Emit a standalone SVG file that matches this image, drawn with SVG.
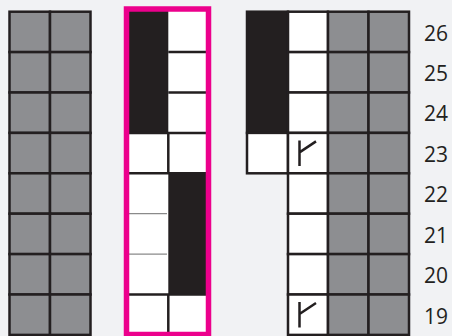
<svg xmlns="http://www.w3.org/2000/svg" width="452" height="336" viewBox="0 0 452 336">
<style>
.g{fill:#8d8e91;stroke:#231f20;stroke-width:2.5}
.w{fill:#ffffff;stroke:#231f20;stroke-width:2.5}
.k{fill:#231f20;stroke:#231f20;stroke-width:2.5}
.ln{stroke:#231f20;stroke-width:2.5;fill:none}
.lt{stroke:#8a8a8a;stroke-width:1.2;fill:none}
.sym{stroke:#231f20;stroke-width:2.5;fill:none;stroke-linecap:butt}
.lab{font-family:"Open Sans","Liberation Sans",sans-serif;font-size:21px;fill:#231f20;text-anchor:middle}
</style>
<defs>
<g id="gcell"><rect class="g" width="40.5" height="40.4"/></g>
<path id="mark" d="M11.5 7.5V33M11.5 19.5L28 8.5"/>
</defs>
<rect width="452" height="336" fill="#f1f2f4"/>

<g id="left-block">
<rect class="g" x="9.5" y="11.7" width="40.5" height="40.4"/><rect class="g" x="50" y="11.7" width="40.5" height="40.4"/>
<rect class="g" x="9.5" y="52.1" width="40.5" height="40.4"/><rect class="g" x="50" y="52.1" width="40.5" height="40.4"/>
<rect class="g" x="9.5" y="92.5" width="40.5" height="40.4"/><rect class="g" x="50" y="92.5" width="40.5" height="40.4"/>
<rect class="g" x="9.5" y="132.9" width="40.5" height="40.4"/><rect class="g" x="50" y="132.9" width="40.5" height="40.4"/>
<rect class="g" x="9.5" y="173.3" width="40.5" height="40.4"/><rect class="g" x="50" y="173.3" width="40.5" height="40.4"/>
<rect class="g" x="9.5" y="213.7" width="40.5" height="40.4"/><rect class="g" x="50" y="213.7" width="40.5" height="40.4"/>
<rect class="g" x="9.5" y="254.1" width="40.5" height="40.4"/><rect class="g" x="50" y="254.1" width="40.5" height="40.4"/>
<rect class="g" x="9.5" y="294.5" width="40.5" height="40.4"/><rect class="g" x="50" y="294.5" width="40.5" height="40.4"/>
</g>

<g id="pink-block">
<rect x="126.5" y="9" width="82" height="326" fill="#ffffff"/>
<rect x="126.5" y="9" width="41.8" height="124" fill="#231f20"/>
<rect x="168.3" y="173.3" width="40.2" height="121.2" fill="#231f20"/>
<path class="ln" d="M168.3 52.1H208.5M168.3 92.5H208.5M126.5 132.9H208.5M126.5 173.3H208.5M126.5 294.5H208.5M168.3 132.9V173.3M168.3 294.5V336"/>
<path class="lt" d="M129 213.7H167M129 254.1H167"/>
<rect x="126.5" y="9" width="82" height="325.5" fill="none" stroke="#ec008c" stroke-width="5.5"/>
</g>

<g id="right-block">
<rect class="k" x="247" y="11.7" width="41" height="121.2"/>
<rect class="w" x="247" y="132.9" width="41" height="40.4"/>
<rect class="w" x="288" y="11.7" width="40" height="40.4"/>
<rect class="w" x="288" y="52.1" width="40" height="40.4"/>
<rect class="w" x="288" y="92.5" width="40" height="40.4"/>
<rect class="w" x="288" y="132.9" width="40" height="40.4"/>
<rect class="w" x="288" y="173.3" width="40" height="40.4"/>
<rect class="w" x="288" y="213.7" width="40" height="40.4"/>
<rect class="w" x="288" y="254.1" width="40" height="40.4"/>
<rect class="w" x="288" y="294.5" width="40" height="40.4"/>
<use href="#gcell" x="328" y="11.7"/><use href="#gcell" x="368.5" y="11.7"/>
<use href="#gcell" x="328" y="52.1"/><use href="#gcell" x="368.5" y="52.1"/>
<use href="#gcell" x="328" y="92.5"/><use href="#gcell" x="368.5" y="92.5"/>
<use href="#gcell" x="328" y="132.9"/><use href="#gcell" x="368.5" y="132.9"/>
<use href="#gcell" x="328" y="173.3"/><use href="#gcell" x="368.5" y="173.3"/>
<use href="#gcell" x="328" y="213.7"/><use href="#gcell" x="368.5" y="213.7"/>
<use href="#gcell" x="328" y="254.1"/><use href="#gcell" x="368.5" y="254.1"/>
<use href="#gcell" x="328" y="294.5"/><use href="#gcell" x="368.5" y="294.5"/>
<use href="#mark" class="sym" x="288" y="132.9"/>
<use href="#mark" class="sym" x="288" y="294.5"/>
</g>

<g id="row-labels">
<text class="lab" x="436" y="40.5">26</text>
<text class="lab" x="436" y="80.9">25</text>
<text class="lab" x="436" y="121.3">24</text>
<text class="lab" x="436" y="161.7">23</text>
<text class="lab" x="436" y="202.1">22</text>
<text class="lab" x="436" y="242.5">21</text>
<text class="lab" x="436" y="282.9">20</text>
<text class="lab" x="436" y="323.8">19</text>
</g>
</svg>
